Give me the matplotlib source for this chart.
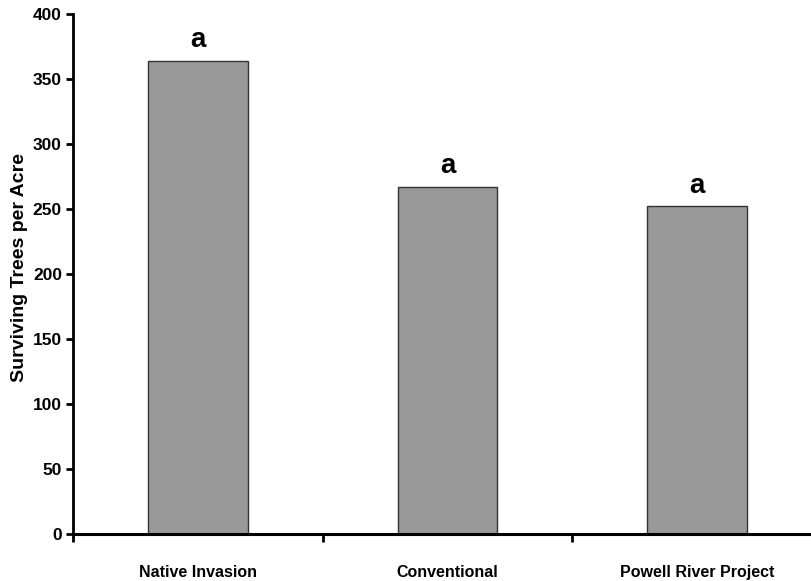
import matplotlib
matplotlib.use('Agg')
from matplotlib import pyplot as plt
from matplotlib import font_manager

# data
categories = ['Native Invasion', 'Conventional', 'Powell River Project']
trees_per_acre = [364, 267, 252]
letters = ['a', 'a', 'a']
y_ticks = [0, 50, 100, 150, 200, 250, 300, 350, 400]

names = {f.name for f in font_manager.fontManager.ttflist}
narrow = 'Liberation Sans Narrow' if 'Liberation Sans Narrow' in names else 'Liberation Sans'
plt.rcParams['font.family'] = ['Liberation Sans', 'DejaVu Sans']

W, H = 812, 581
fig = plt.figure(figsize=(W / 100, H / 100), dpi=100)
# axes runs off the right edge like the original
ax = fig.add_axes([73 / W, (H - 534) / H, (822 - 73) / W, (534 - 14) / H])

x = list(range(len(categories)))
ax.bar(x, trees_per_acre, width=0.4, color='#999999', edgecolor='#333333', linewidth=1.0)

for xi, v, lab in zip(x, trees_per_acre, letters):
    ax.text(xi, v + 6, lab, ha='center', va='bottom', fontsize=20, fontweight='bold')

ax.set_xlim(-0.5, 2.5)
ax.set_ylim(0, 400)
ax.set_yticks(y_ticks)
ax.set_xticks(x)
ax.set_xticklabels(categories, fontname=narrow, fontsize=11.5, fontweight='bold')
ax.set_xticks([-0.5, 0.5, 1.5, 2.5], minor=True)
ax.tick_params(axis='x', which='major', length=0, pad=22)
ax.tick_params(axis='x', which='minor', length=6, width=2, direction='out')
ax.tick_params(axis='y', length=5, width=2, direction='out', pad=3)
for t in ax.get_yticklabels():
    t.set_fontname(narrow)
    t.set_fontsize(12.5)
    t.set_fontweight('bold')

for s in ['top', 'right']:
    ax.spines[s].set_visible(False)
ax.spines['left'].set_linewidth(2)
ax.spines['bottom'].set_linewidth(2.2)

fig.text(20 / W, 1 - 268 / H, 'Surviving Trees per Acre', rotation=90,
         ha='center', va='center', fontsize=14, fontweight='bold')

fig.savefig('out.png', dpi=100)
